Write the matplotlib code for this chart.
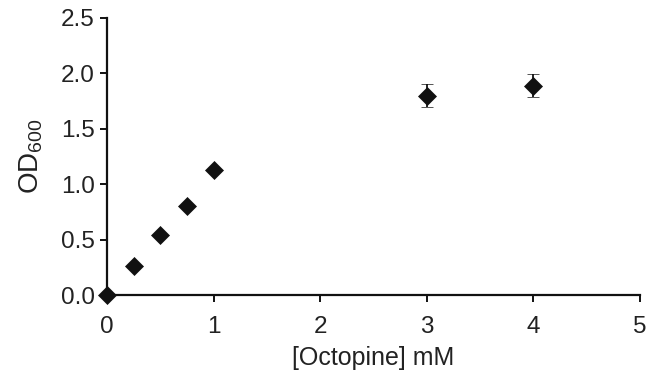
import matplotlib
matplotlib.use("Agg")
import matplotlib.pyplot as plt

plt.rcParams['font.family'] = ['Liberation Sans', 'DejaVu Sans']
plt.rcParams['mathtext.fontset'] = 'custom'
plt.rcParams['mathtext.rm'] = 'Liberation Sans'

octopine = [0, 0.25, 0.5, 0.75, 1, 3, 4]
od600 = [0.0, 0.26, 0.54, 0.80, 1.13, 1.80, 1.89]
od_err = [0, 0, 0, 0, 0, 0.10, 0.10]
x_ticks = [0, 1, 2, 3, 4, 5]
y_ticks = [0.0, 0.5, 1.0, 1.5, 2.0, 2.5]

fig = plt.figure(figsize=(6.51, 3.81), dpi=100)
ax = fig.add_axes([0.1644, 0.2257, 0.8186, 0.7271])
ax.errorbar(octopine, od600, yerr=od_err, fmt='D', color='#111111',
            markersize=9, markeredgewidth=0.5, capsize=4, elinewidth=1.3, capthick=1.3,
            clip_on=False, zorder=5)
ax.set_xlim(0, 5)
ax.set_ylim(0, 2.5)
ax.set_xticks(x_ticks)
ax.set_yticks(y_ticks)
ax.set_xticklabels([str(v) for v in x_ticks])
ax.set_yticklabels([f"{v:.1f}" for v in y_ticks])
for s in ['top', 'right']:
    ax.spines[s].set_visible(False)
for s in ['left', 'bottom']:
    ax.spines[s].set_linewidth(1.6)
    ax.spines[s].set_color('#111111')
ax.tick_params(direction='out', length=5, width=1.4, labelsize=17.5, colors='#111111')
ax.tick_params(axis='x', pad=10)
ax.tick_params(axis='y', pad=4)
for lab in ax.get_xticklabels() + ax.get_yticklabels():
    lab.set_color('#222222')
ax.set_xlabel('[Octopine] mM', fontsize=18, color='#222222', labelpad=6)
ax.set_ylabel('OD$_{600}$', fontsize=20, color='#222222', labelpad=11)
fig.savefig('out.png', dpi=100)
